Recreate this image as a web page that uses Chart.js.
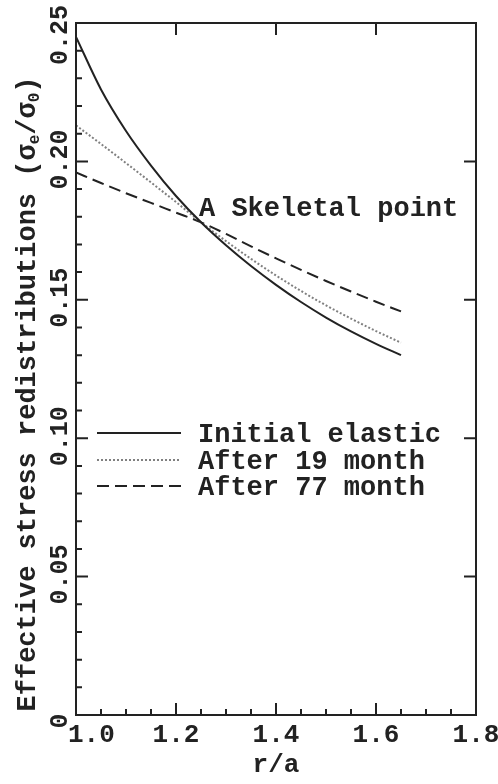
<!DOCTYPE html>
<html>
<head>
<meta charset="utf-8">
<script src="https://cdn.jsdelivr.net/npm/chart.js@4.4.0/dist/chart.umd.min.js"></script>
<style>
  html, body { margin: 0; padding: 0; background: #fff; }
</style>
</head>
<body>
<canvas id="chart" width="498" height="784"></canvas>
<script>
// r/a positions along the radius
const radius = [1.0, 1.05, 1.1, 1.15, 1.2, 1.25, 1.3, 1.35, 1.4, 1.45, 1.5, 1.55, 1.6, 1.65];
// effective stress ratio for each state
const initialElastic = [0.245, 0.226, 0.211, 0.1985, 0.1875, 0.178, 0.1697, 0.1622, 0.1554, 0.1492, 0.1436, 0.1386, 0.1341, 0.130];
const after19Month   = [0.213, 0.2063, 0.1994, 0.1924, 0.1853, 0.178, 0.1712, 0.1648, 0.1588, 0.1532, 0.148, 0.1432, 0.1387, 0.1345];
const after77Month   = [0.196, 0.1922, 0.1885, 0.185, 0.1815, 0.178, 0.1738, 0.1693, 0.165, 0.1608, 0.1568, 0.153, 0.1493, 0.1458];

const seriesNames = ['Initial elastic', 'After 19 month', 'After 77 month'];
const xTicks = [1.0, 1.2, 1.4, 1.6, 1.8];
const xTickLabels = ['1.0', '1.2', '1.4', '1.6', '1.8'];
const yTicks = [0, 0.05, 0.10, 0.15, 0.20, 0.25];
const yTickLabels = ['0', '0.05', '0.10', '0.15', '0.20', '0.25'];
const skeletalPoint = [1.25, 0.178];

const FONT = '"Liberation Mono", "DejaVu Sans Mono", monospace';
const INK = '#222';

const toPoints = vals => vals.map((v, i) => ({ x: radius[i], y: v }));

const styles = [
  { color: INK, dash: [] },
  { color: '#808080', dash: [2, 2] },
  { color: INK, dash: [12, 6] }
];

// frame, inward ticks, labels, legend and the skeletal point note
const framePlugin = {
  id: 'frame',
  afterDatasetsDraw(chart) {
    const { ctx, chartArea: a, scales: { x, y } } = chart;
    ctx.save();
    ctx.strokeStyle = INK;
    ctx.lineWidth = 2;
    ctx.setLineDash([]);
    ctx.strokeRect(a.left, a.top, a.right - a.left, a.bottom - a.top);

    ctx.beginPath();
    for (let i = 1; i < 25; i++) {
      const py = y.getPixelForValue(i / 100);
      const major = i % 5 === 0;
      ctx.moveTo(a.left, py);
      ctx.lineTo(a.left + (major ? 12 : 6), py);
      if (major) {
        ctx.moveTo(a.right, py);
        ctx.lineTo(a.right - 12, py);
      }
    }
    for (let i = 1; i < 16; i++) {
      const px = x.getPixelForValue(1 + i * 0.05);
      const major = i % 4 === 0;
      ctx.moveTo(px, a.bottom);
      ctx.lineTo(px, a.bottom - (major ? 12 : 6));
      if (major) {
        ctx.moveTo(px, a.top);
        ctx.lineTo(px, a.top + 12);
      }
    }
    ctx.stroke();

    ctx.fillStyle = INK;

    // x tick labels
    ctx.font = 'bold 26px ' + FONT;
    ctx.textBaseline = 'alphabetic';
    xTicks.forEach((v, i) => {
      const px = x.getPixelForValue(v);
      if (i === 0) {
        ctx.textAlign = 'left';
        ctx.fillText(xTickLabels[i], px - 8, a.bottom + 27);
      } else {
        ctx.textAlign = 'center';
        ctx.fillText(xTickLabels[i], px, a.bottom + 27);
      }
    });
    ctx.textAlign = 'center';
    ctx.fillText('r/a', x.getPixelForValue(1.4), a.bottom + 57);

    // y tick labels, rotated
    ctx.font = 'bold 25px ' + FONT;
    yTicks.forEach((v, i) => {
      let py = y.getPixelForValue(v) - 2;
      if (i === 0) py = a.bottom + 6;
      py = Math.max(py, 35);
      ctx.save();
      ctx.translate(a.left - 9, py);
      ctx.rotate(-Math.PI / 2);
      ctx.textAlign = 'center';
      ctx.fillText(yTickLabels[i], 0, 0);
      ctx.restore();
    });

    // y axis title with subscripts
    const big = 'bold 27px ' + FONT;
    const small = 'bold 16px ' + FONT;
    const parts = [
      ['Effective stress redistributions (\u03c3', big, 0],
      ['e', small, 4],
      ['/\u03c3', big, 0],
      ['0', small, 4],
      [')', big, 0]
    ];
    let total = 0;
    parts.forEach(p => { ctx.font = p[1]; total += ctx.measureText(p[0]).width; });
    ctx.save();
    ctx.translate(35, 394);
    ctx.rotate(-Math.PI / 2);
    ctx.textAlign = 'left';
    let cx = -total / 2;
    parts.forEach(p => {
      ctx.font = p[1];
      ctx.fillText(p[0], cx, p[2]);
      cx += ctx.measureText(p[0]).width;
    });
    ctx.restore();

    // skeletal point note
    ctx.font = 'bold 27px ' + FONT;
    ctx.textAlign = 'left';
    const sx = x.getPixelForValue(skeletalPoint[0]);
    const sy = y.getPixelForValue(skeletalPoint[1]);
    ctx.fillText('A Skeletal point', sx - 2, sy - 6);

    // legend
    const legendY = [433, 460, 486];
    seriesNames.forEach((name, i) => {
      ctx.strokeStyle = styles[i].color;
      ctx.setLineDash(styles[i].dash);
      ctx.lineWidth = 2;
      ctx.beginPath();
      ctx.moveTo(97, legendY[i]);
      ctx.lineTo(181, legendY[i]);
      ctx.stroke();
      ctx.fillStyle = INK;
      ctx.fillText(name, 198, legendY[i] + 9);
    });
    ctx.restore();
  }
};

new Chart(document.getElementById('chart'), {
  type: 'line',
  data: {
    datasets: [initialElastic, after19Month, after77Month].map((vals, i) => ({
      label: seriesNames[i],
      data: toPoints(vals),
      borderColor: styles[i].color,
      borderDash: styles[i].dash,
      borderWidth: 2,
      pointRadius: 0,
      fill: false,
      cubicInterpolationMode: 'monotone'
    }))
  },
  options: {
    responsive: false,
    devicePixelRatio: 1,
    animation: false,
    layout: { padding: { left: 76, right: 22, top: 23, bottom: 69 } },
    plugins: { legend: { display: false }, tooltip: { enabled: false } },
    scales: {
      x: { type: 'linear', min: 1.0, max: 1.8, display: false },
      y: { type: 'linear', min: 0, max: 0.25, display: false }
    }
  },
  plugins: [framePlugin]
});
</script>
</body>
</html>
